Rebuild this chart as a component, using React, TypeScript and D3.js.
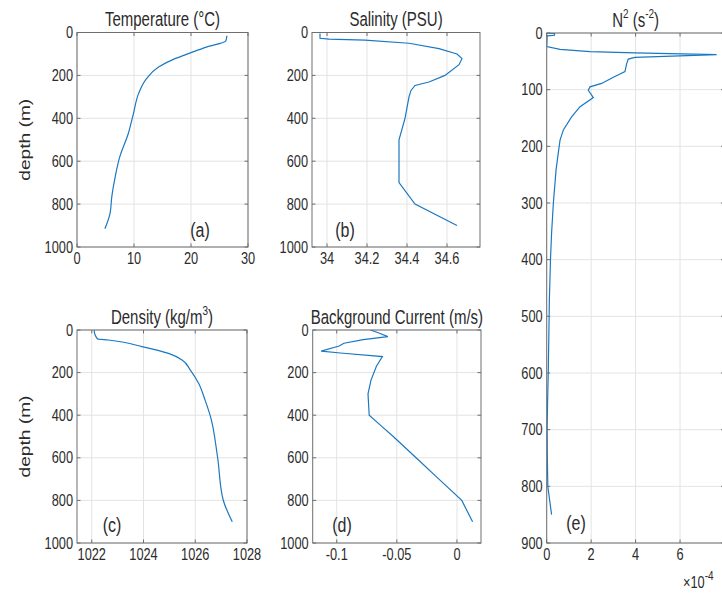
import React from 'react';
import * as d3 from 'd3';

// ---------- data ----------
const TEMP_DEPTH = [15, 40, 68, 96, 122, 161, 215, 285, 378, 471, 580, 673, 766, 843, 915];
const TEMPERATURE = [26.3, 26.1, 22.7, 19.8, 17.2, 14.3, 12.2, 10.8, 9.9, 9.0, 7.5, 6.7, 6.1, 5.8, 4.9];

const SAL_DEPTH = [5, 27, 31, 36, 50, 75, 100, 122, 150, 200, 231, 247, 270, 300, 400, 500, 700, 800, 900];
const SALINITY = [33.965, 33.965, 34.01, 34.19, 34.41, 34.56, 34.65, 34.675, 34.66, 34.59, 34.51, 34.44, 34.42, 34.41, 34.39, 34.36, 34.36, 34.44, 34.65];

const DEN_DEPTH = [0, 23, 42, 47, 78, 110, 141, 188, 250, 329, 407, 595, 798, 900];
const DENSITY = [1022.09, 1022.13, 1022.23, 1022.64, 1023.94, 1024.97, 1025.49, 1025.81, 1026.13, 1026.38, 1026.59, 1026.86, 1027.08, 1027.43];

const CUR_DEPTH = [0, 12, 31, 45, 62, 75, 99, 108, 125, 170, 235, 300, 400, 450, 500, 600, 700, 800, 900];
const CURRENT = [-0.072, -0.066, -0.0575, -0.078, -0.094, -0.098, -0.113, -0.097, -0.062, -0.067, -0.0715, -0.074, -0.073, -0.063, -0.053, -0.034, -0.015, 0.004, 0.013];

const N2_DEPTH = [0, 1, 4, 5, 24, 29, 33, 35, 38, 43, 46, 54, 68, 78, 89, 95, 101, 114, 130, 148, 171, 189, 212, 242, 300, 353, 400, 471, 500, 600, 650, 700, 750, 800, 850];
const N2 = [0.0, 0.35, 0.35, 0.02, 0.0, 0.6, 1.95, 3.97, 7.65, 3.97, 3.67, 3.6, 3.52, 3.0, 2.47, 1.95, 1.87, 2.1, 1.5, 1.12, 0.75, 0.6, 0.52, 0.42, 0.3, 0.22, 0.17, 0.12, 0.11, 0.07, 0.04, 0.02, 0.03, 0.05, 0.22];

const DEPTH_TICKS = [0, 200, 400, 600, 800, 1000];
const N2_DEPTH_TICKS = [0, 100, 200, 300, 400, 500, 600, 700, 800, 900];
const TEMP_TICKS = [0, 10, 20, 30];
const SAL_TICKS = [34, 34.2, 34.4, 34.6];
const DEN_TICKS = [1022, 1024, 1026, 1028];
const CUR_TICKS = [-0.1, -0.05, 0];
const N2_TICKS = [0, 2, 4, 6, 8];
const N2_TICK_LABELS = ['0', '2', '4', '6', ''];

const FONT = 'Liberation Sans, Arial, Helvetica, sans-serif';
const SY = 1.3;
const TXT = '#2b2b2b';
const AX = '#6e6e6e';
const GRID = '#e3e3e3';
const LINE = '#1a78c2';

type PanelProps = {
  id: string;
  x0: number; x1: number; y0: number; y1: number;
  xDomain: [number, number]; yDomain: [number, number];
  xTicks: number[]; xLabels: string[]; yTicks: number[];
  xv: number[]; yv: number[];
  smooth?: boolean;
  title: React.ReactNode;
  label: string; lx: number; ly: number;
  ylabel?: boolean;
};

function Panel(p: PanelProps) {
  const xs = d3.scaleLinear().domain(p.xDomain).range([p.x0, p.x1]);
  const ys = d3.scaleLinear().domain(p.yDomain).range([p.y0, p.y1]);
  const pts: [number, number][] = p.xv.map((v, i) => [v, p.yv[i]]);
  const gen = d3.line<[number, number]>().x(d => xs(d[0])).y(d => ys(d[1]));
  if (p.smooth) gen.curve(d3.curveMonotoneY);
  const path = gen(pts) || '';
  const tl = 3.5;
  const midX = (p.x0 + p.x1) / 2;
  const midY = (p.y0 + p.y1) / 2;
  return (
    <g>
      <defs>
        <clipPath id={'clip-' + p.id}>
          <rect x={p.x0} y={p.y0} width={p.x1 - p.x0} height={p.y1 - p.y0} />
        </clipPath>
      </defs>
      <rect x={p.x0} y={p.y0} width={p.x1 - p.x0} height={p.y1 - p.y0} fill="#fff" />
      {p.xTicks.map(t => (
        <line key={'gx' + t} x1={xs(t)} x2={xs(t)} y1={p.y0} y2={p.y1} stroke={GRID} strokeWidth={1} />
      ))}
      {p.yTicks.map(t => (
        <line key={'gy' + t} x1={p.x0} x2={p.x1} y1={ys(t)} y2={ys(t)} stroke={GRID} strokeWidth={1} />
      ))}
      <path d={path} fill="none" stroke={LINE} strokeWidth={1.2} clipPath={`url(#clip-${p.id})`} />
      <rect x={p.x0} y={p.y0} width={p.x1 - p.x0} height={p.y1 - p.y0} fill="none" stroke={AX} strokeWidth={1} />
      {p.xTicks.map(t => (
        <g key={'tx' + t}>
          <line x1={xs(t)} x2={xs(t)} y1={p.y1} y2={p.y1 - tl} stroke={AX} />
          <line x1={xs(t)} x2={xs(t)} y1={p.y0} y2={p.y0 + tl} stroke={AX} />
        </g>
      ))}
      {p.yTicks.map(t => (
        <g key={'ty' + t}>
          <line x1={p.x0} x2={p.x0 + tl} y1={ys(t)} y2={ys(t)} stroke={AX} />
          <line x1={p.x1} x2={p.x1 - tl} y1={ys(t)} y2={ys(t)} stroke={AX} />
        </g>
      ))}
      {p.xTicks.map((t, i) => (
        <text key={'lx' + t} transform={`translate(${xs(t)},${p.y1 + 11}) scale(1,${SY})`}
          textAnchor="middle" dominantBaseline="central" fontSize={12.8} fill={TXT}>{p.xLabels[i]}</text>
      ))}
      {p.yTicks.map(t => (
        <text key={'ly' + t} transform={`translate(${p.x0 - 4},${ys(t)}) scale(1,${SY})`}
          textAnchor="end" dominantBaseline="central" fontSize={12.8} fill={TXT}>{String(t)}</text>
      ))}
      <text transform={`translate(${midX},${p.y0 - 13}) scale(1,${SY})`} textAnchor="middle"
        dominantBaseline="central" fontSize={15} fill={TXT}>{p.title}</text>
      <text transform={`translate(${p.lx},${p.ly}) scale(1,${SY})`} textAnchor="middle"
        dominantBaseline="central" fontSize={16} fill={TXT}>{p.label}</text>
      {p.ylabel ? (
        <text transform={`translate(25,${midY}) rotate(-90)`} textAnchor="middle" dominantBaseline="central"
          fontSize={14} fill={TXT} textLength={82} lengthAdjust="spacingAndGlyphs">depth (m)</text>
      ) : null}
    </g>
  );
}

export default function App() {
  return (
    <svg width={722} height={594} style={{ position: 'absolute', left: 0, top: 0, fontFamily: FONT, background: '#fff' }}>
      <rect x={0} y={0} width={722} height={594} fill="#fff" />
      <Panel id="a" x0={77} x1={248} y0={32.5} y1={247} xDomain={[0, 30]} yDomain={[0, 1000]}
        xTicks={TEMP_TICKS} xLabels={TEMP_TICKS.map(String)} yTicks={DEPTH_TICKS}
        xv={TEMPERATURE} yv={TEMP_DEPTH} smooth title={'Temperature (°C)'} label="(a)" lx={200} ly={230} ylabel />
      <Panel id="b" x0={312} x1={480} y0={32.5} y1={247} xDomain={[33.925, 34.765]} yDomain={[0, 1000]}
        xTicks={SAL_TICKS} xLabels={SAL_TICKS.map(String)} yTicks={DEPTH_TICKS}
        xv={SALINITY} yv={SAL_DEPTH} title={'Salinity (PSU)'} label="(b)" lx={345} ly={230} />
      <Panel id="c" x0={77} x1={247} y0={330} y1={543} xDomain={[1021.43, 1028]} yDomain={[0, 1000]}
        xTicks={DEN_TICKS} xLabels={DEN_TICKS.map(String)} yTicks={DEPTH_TICKS}
        xv={DENSITY} yv={DEN_DEPTH} smooth
        title={<>Density (kg/m<tspan dy={-5} fontSize={10}>3</tspan><tspan dy={5}>)</tspan></>}
        label="(c)" lx={112} ly={525} ylabel />
      <Panel id="d" x0={312.7} x1={481} y0={330} y1={543} xDomain={[-0.12, 0.02]} yDomain={[0, 1000]}
        xTicks={CUR_TICKS} xLabels={CUR_TICKS.map(String)} yTicks={DEPTH_TICKS}
        xv={CURRENT} yv={CUR_DEPTH} title={'Background Current (m/s)'} label="(d)" lx={342} ly={525} />
      <Panel id="e" x0={546.7} x1={724.5} y0={33} y1={543} xDomain={[0, 8]} yDomain={[0, 900]}
        xTicks={N2_TICKS} xLabels={N2_TICK_LABELS} yTicks={N2_DEPTH_TICKS}
        xv={N2} yv={N2_DEPTH}
        title={<>N<tspan dy={-5} fontSize={10}>2</tspan><tspan dy={5}> (s</tspan><tspan dy={-5} fontSize={10}>-2</tspan><tspan dy={5}>)</tspan></>}
        label="(e)" lx={576} ly={523} />
      <text transform={`translate(683,582) scale(1,${SY})`} dominantBaseline="central" fontSize={12.8} fill={TXT}>
        ×10<tspan dy={-5} fontSize={10}>-4</tspan>
      </text>
    </svg>
  );
}
